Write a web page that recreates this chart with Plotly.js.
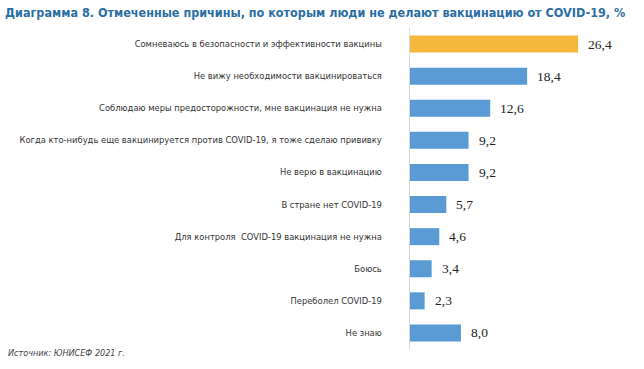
<!DOCTYPE html>
<html>
<head>
<meta charset="utf-8">
<script src="https://cdn.plot.ly/plotly-3.0.1.min.js"></script>
<style>html,body{margin:0;padding:0;background:#fff;}#chart{width:644px;height:369px;}</style>
</head>
<body>
<div id="chart"></div>
<script>
const categories = [
  "Сомневаюсь в безопасности и эффективности вакцины",
  "Не вижу необходимости вакцинироваться",
  "Соблюдаю меры предосторожности, мне вакцинация не нужна",
  "Когда кто-нибудь еще вакцинируется против COVID-19, я тоже сделаю прививку",
  "Не верю в вакцинацию",
  "В стране нет COVID-19",
  "Для контроля  COVID-19 вакцинация не нужна",
  "Боюсь",
  "Переболел COVID-19",
  "Не знаю"
];
const values = [26.4, 18.4, 12.6, 9.2, 9.2, 5.7, 4.6, 3.4, 2.3, 8.0];
const valueLabels = ["26,4", "18,4", "12,6", "9,2", "9,2", "5,7", "4,6", "3,4", "2,3", "8,0"];
const highlightIndex = 0;

const colors = values.map((v, i) => i === highlightIndex ? "#F5B83D" : "#5B9BD5");

const trace = {
  type: "bar",
  orientation: "h",
  x: values,
  y: categories,
  marker: {color: colors, line: {width: 0}},
  hoverinfo: "none",
  cliponaxis: false
};

const annotations = values.map((v, i) => ({
  x: v, y: categories[i], xref: "x", yref: "y",
  text: valueLabels[i], showarrow: false,
  xanchor: "left", yanchor: "middle", xshift: 8,
  font: {family: "Liberation Serif, Times New Roman, serif", size: 13.5, color: "#222"}
}));

// source note, placed relative to the plot area (paper: x 410..601, y 28..349)
annotations.push({
  xref: "paper", yref: "paper", x: (6 - 410) / 191, y: (349 - 353) / 321,
  xanchor: "left", yanchor: "middle", showarrow: false,
  text: "<i>Источник: ЮНИСЕФ 2021 г.</i>",
  font: {family: "DejaVu Sans Condensed, Liberation Sans, sans-serif", size: 9, color: "#444"}
});

const layout = {
  width: 644, height: 369,
  margin: {l: 410, r: 43, t: 28, b: 20},
  paper_bgcolor: "#fff", plot_bgcolor: "#fff",
  showlegend: false,
  bargap: 0.47,
  title: {
    text: "<b>Диаграмма 8. Отмеченные причины, по которым люди не делают вакцинацию от COVID-19, %</b>",
    xref: "container", yref: "container", x: 5/644, y: 1 - 13/369,
    xanchor: "left", yanchor: "middle",
    font: {family: "DejaVu Sans Condensed, Liberation Sans, sans-serif", size: 12.5, color: "#2B6EA3"}
  },
  xaxis: {range: [0, 30], visible: false, fixedrange: true},
  yaxis: {
    autorange: "reversed", type: "category",
    showline: true, linecolor: "#D9D9D9", linewidth: 1.5,
    ticks: "", ticklabelstandoff: 25,
    showgrid: false, zeroline: false,
    tickfont: {family: "DejaVu Sans, sans-serif", size: 8.4, color: "#333"},
    fixedrange: true
  },
  annotations: annotations
};

Plotly.newPlot("chart", [trace], layout, {displayModeBar: false, staticPlot: true});
</script>
</body>
</html>
